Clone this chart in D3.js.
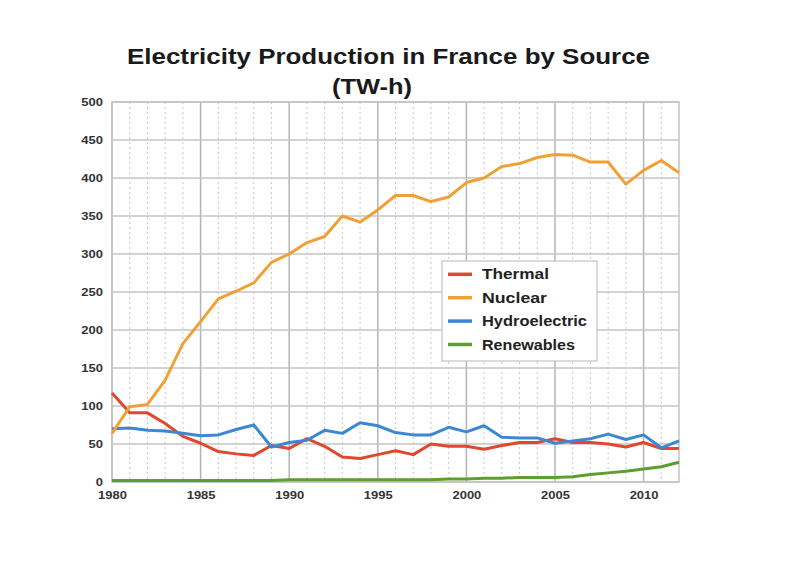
<!DOCTYPE html>
<html><head><meta charset="utf-8">
<script src="https://cdn.jsdelivr.net/npm/d3@7"></script>
<style>body{margin:0;background:#fff}svg{display:block}</style>
</head><body><svg id="c" width="800" height="566"></svg>
<script>
const years = d3.range(1980, 2013);
const thermal = [117,91,91,77,60,51,40,37,35,48,44,57,47,33,31,36,41,36,50,47,47,43,48,52,52,57,52,52,50,46,52,44,44];
const nuclear = [64,99,102,134,182,211,241,251,262,289,300,315,323,350,342,358,377,377,369,375,394,400,415,419,427,431,430,421,421,392,410,423,407];
const hydro = [70,71,68,67,64,61,62,69,75,46,52,55,68,64,78,74,65,62,62,72,66,74,59,58,58,51,54,57,63,56,62,45,54];
const renewables = [2,2,2,2,2,2,2,2,2,2,3,3,3,3,3,3,3,3,3,4,4,5,5,6,6,6,7,10,12,14,17,20,26];
const seriesNames = ["Thermal","Nuclear","Hydroelectric","Renewables"];
const seriesColors = ["#e0472d","#f0a035","#3c87d4","#5c9e30"];
const yTicks = [0,50,100,150,200,250,300,350,400,450,500];
const xTicks = [1980,1985,1990,1995,2000,2005,2010];

const series = [thermal, nuclear, hydro, renewables];
const svg = d3.select("#c");
const FONT = "Liberation Sans, Arial, sans-serif";
const L=112, R=679, T=102, B=482;
const x = d3.scaleLinear().domain([1980,2012]).range([L,R]);
const y = d3.scaleLinear().domain([0,500]).range([B,T]);

// minor vertical dotted grid
svg.append("g").selectAll("line").data(years.filter(v=>v%5!==0 && v!==2012)).join("line")
  .attr("x1",d=>x(d)).attr("x2",d=>x(d)).attr("y1",T).attr("y2",B)
  .attr("stroke","#c8c8c8").attr("stroke-width",1).attr("stroke-dasharray","2,3");
// major grid
svg.append("g").selectAll("line").data(xTicks).join("line")
  .attr("x1",d=>x(d)).attr("x2",d=>x(d)).attr("y1",T).attr("y2",B)
  .attr("stroke","#b4b4b4").attr("stroke-width",1.5);
svg.append("g").selectAll("line").data(yTicks).join("line")
  .attr("x1",L).attr("x2",R).attr("y1",d=>y(d)).attr("y2",d=>y(d))
  .attr("stroke","#c4c4c4").attr("stroke-width",1.5);
svg.append("rect").attr("x",L).attr("y",T).attr("width",R-L).attr("height",B-T)
  .attr("fill","none").attr("stroke","#c4c4c4").attr("stroke-width",1.5);

// axes
const yAxis = d3.axisLeft(y).tickValues(yTicks).tickSize(0).tickPadding(0);
const gy = svg.append("g").attr("transform",`translate(${L},0)`).call(yAxis);
const xAxis = d3.axisBottom(x).tickValues(xTicks).tickFormat(d3.format("d")).tickSize(0).tickPadding(0);
const gx = svg.append("g").attr("transform",`translate(0,${B})`).call(xAxis);
[gx,gy].forEach(g=>{g.select(".domain").remove();
  g.selectAll("text").attr("font-family",FONT)
   .attr("font-weight","bold").attr("font-size",10).attr("fill","#333");});
gy.selectAll("text").attr("x",-9/1.3).attr("dy","0.35em").attr("transform","scale(1.3,1)");
gx.selectAll("text").attr("y",17).attr("dy",0).attr("transform","scale(1.3,1)");

// lines
const line = d3.line().x((d,i)=>x(years[i])).y(d=>y(d));
const drawOrder = [3,0,2,1];
drawOrder.forEach(k=>{
  svg.append("path").datum(series[k]).attr("d",line).attr("fill","none")
    .attr("stroke",seriesColors[k]).attr("stroke-width",3).attr("stroke-linejoin","round");
});

// legend
const lg = svg.append("g").attr("transform","translate(442,261)");
lg.append("rect").attr("width",155).attr("height",100).attr("fill","#fff").attr("stroke","#c4c4c4").attr("stroke-width",1.2);
const legendLen = [67,65,105,93];
seriesNames.forEach((n,i)=>{
  const yy = 13.3 + i*23.4;
  lg.append("line").attr("x1",6).attr("x2",30).attr("y1",yy).attr("y2",yy)
    .attr("stroke",seriesColors[i]).attr("stroke-width",3.5);
  lg.append("text").attr("x",40).attr("y",yy+5).text(n)
    .attr("font-family",FONT).attr("font-weight","bold")
    .attr("font-size",14.5).attr("fill","#222")
    .attr("textLength",legendLen[i]).attr("lengthAdjust","spacingAndGlyphs");
});

// title
svg.append("text").attr("x",127).attr("y",64)
  .attr("font-family",FONT).attr("font-weight","bold")
  .attr("font-size",22).attr("fill","#1a1a1a")
  .attr("textLength",523).attr("lengthAdjust","spacingAndGlyphs")
  .text("Electricity Production in France by Source");
svg.append("text").attr("x",332).attr("y",94)
  .attr("font-family",FONT).attr("font-weight","bold")
  .attr("font-size",22).attr("fill","#1a1a1a")
  .attr("textLength",80).attr("lengthAdjust","spacingAndGlyphs")
  .text("(TW-h)");
</script></body></html>
